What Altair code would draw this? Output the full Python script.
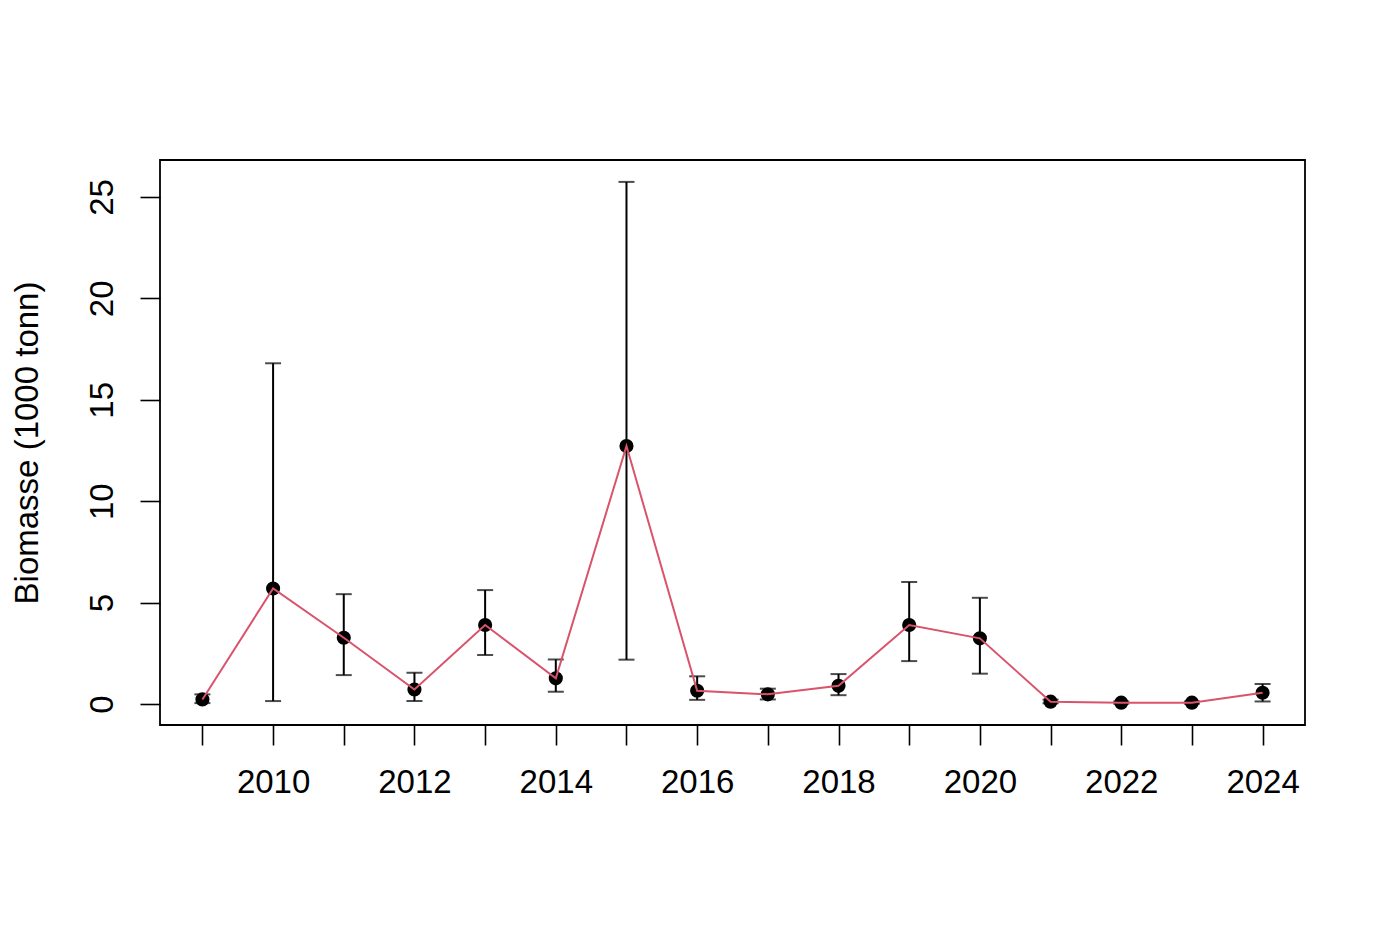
import altair as alt
import pandas as pd

years = list(range(2009, 2025))
biomass = [0.23, 5.70, 3.27, 0.72, 3.90, 1.27, 12.72, 0.66, 0.48, 0.90, 3.90, 3.24, 0.12, 0.07, 0.07, 0.56]
lower = [0.05, 0.15, 1.43, 0.15, 2.42, 0.61, 2.19, 0.21, 0.23, 0.44, 2.12, 1.50, 0.04, 0.02, 0.02, 0.13]
upper = [0.48, 16.80, 5.42, 1.55, 5.62, 2.20, 25.74, 1.37, 0.76, 1.48, 6.02, 5.24, 0.22, 0.13, 0.13, 0.99]

df = pd.DataFrame({"year": years, "biomass": biomass, "lower": lower, "upper": upper})

FONT = "Arial, Liberation Sans, sans-serif"

xscale = alt.Scale(domain=[2008.4, 2024.6], nice=False, zero=False)
yscale = alt.Scale(domain=[-1.03, 26.82], nice=False, zero=False)

xaxis = alt.Axis(
    values=years, format="d", title=None, domain=False, grid=False,
    tickSize=20, tickColor="black", tickWidth=1.6,
    labelExpr="datum.value % 2 == 0 ? datum.label : ''",
    labelFont=FONT, labelFontSize=33, labelColor="black", labelPadding=21,
    labelFlush=False, labelOverlap=False,
)
yaxis = alt.Axis(
    values=[0, 5, 10, 15, 20, 25], title="Biomasse (1000 tonn)", domain=False, grid=False,
    tickSize=20, tickColor="black", tickWidth=1.6,
    labelAngle=270, labelAlign="center", labelBaseline="bottom",
    labelFont=FONT, labelFontSize=33, labelColor="black", labelPadding=21,
    labelFlush=False, labelOverlap=False,
    titleFont=FONT, titleFontSize=33, titleFontWeight="normal", titleColor="black",
    titlePadding=42,
)

base = alt.Chart(df)

rules = base.mark_rule(color="black", strokeWidth=2).encode(
    x=alt.X("year:Q", scale=xscale, axis=xaxis),
    y=alt.Y("lower:Q", scale=yscale, axis=yaxis),
    y2="upper:Q",
)
cap_lo = base.mark_tick(orient="horizontal", color="black", thickness=2, size=16).encode(
    x=alt.X("year:Q", scale=xscale), y=alt.Y("lower:Q", scale=yscale)
)
cap_hi = base.mark_tick(orient="horizontal", color="black", thickness=2, size=16).encode(
    x=alt.X("year:Q", scale=xscale), y=alt.Y("upper:Q", scale=yscale)
)
points = base.mark_point(filled=True, color="black", size=200, opacity=1).encode(
    x=alt.X("year:Q", scale=xscale), y=alt.Y("biomass:Q", scale=yscale)
)
line = base.mark_line(color="#D9546B", strokeWidth=2).encode(
    x=alt.X("year:Q", scale=xscale), y=alt.Y("biomass:Q", scale=yscale)
)

chart = alt.layer(rules, cap_lo, cap_hi, points, line).properties(
    width=1145, height=565,
    autosize=alt.AutoSizeParams(type="none"),
    padding={"left": 152, "top": 152, "right": 74, "bottom": 192},
    background="white",
).configure_view(stroke="black", strokeWidth=1.8)

chart.save("out.html", embed_options={"renderer": "svg", "actions": False})
